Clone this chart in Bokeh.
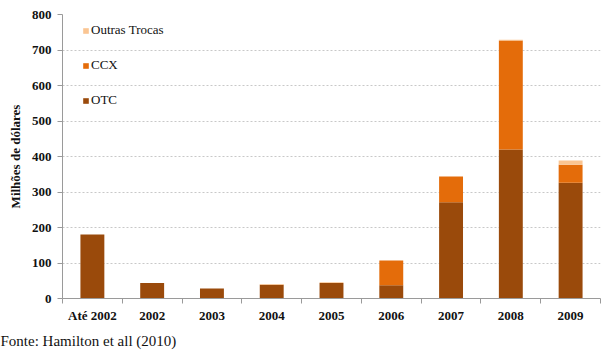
from bokeh.plotting import figure
from bokeh.models import (ColumnDataSource, FixedTicker, Range1d, Legend, LegendItem, Title)
from bokeh.embed import file_html
from bokeh.resources import INLINE

categories = ["Até 2002", "2002", "2003", "2004", "2005", "2006", "2007", "2008", "2009"]
otc = [180, 44, 28, 39, 44, 37, 271, 420, 326]
ccx = [0, 0, 0, 0, 0, 70, 73, 307, 51]
outras = [0, 0, 0, 2, 2, 0, 0, 2, 12]
y_ticks = [0, 100, 200, 300, 400, 500, 600, 700, 800]

colors = {"OTC": "#9A4A0B", "CCX": "#E46C0A", "Outras Trocas": "#FAC592"}
FONT = "Liberation Serif"

xpos = [i + 0.5 for i in range(len(categories))]
src = ColumnDataSource(dict(x=xpos, OTC=otc, CCX=ccx, Outras=outras))

p = figure(width=606, height=358, output_backend="svg", toolbar_location=None,
           x_range=Range1d(0, len(categories)), y_range=Range1d(0, 800))
p.min_border_left = 62
p.min_border_right = 6
p.min_border_top = 14
p.min_border_bottom = 60
p.outline_line_color = None
p.background_fill_color = "white"
p.border_fill_color = "white"

rs = p.vbar_stack(["OTC", "CCX", "Outras"], x="x", width=0.4, source=src,
                  color=[colors["OTC"], colors["CCX"], colors["Outras Trocas"]],
                  line_color=None)

# axes
p.xaxis.ticker = FixedTicker(ticks=xpos, minor_ticks=list(range(len(categories) + 1)))
p.xaxis.major_label_overrides = {x: c for x, c in zip(xpos, categories)}
p.xaxis.major_tick_line_color = None
p.xaxis.minor_tick_line_color = "#9A9A9A"
p.xaxis.minor_tick_out = 5
p.xaxis.minor_tick_in = 0
p.xaxis.axis_line_color = "#9A9A9A"
p.xaxis.major_label_text_font = FONT
p.xaxis.major_label_text_font_style = "bold"
p.xaxis.major_label_text_font_size = "13px"
p.xaxis.major_label_text_color = "#111111"
p.xaxis.major_label_standoff = 3

p.yaxis.ticker = FixedTicker(ticks=y_ticks)
p.yaxis.minor_tick_line_color = None
p.yaxis.major_tick_line_color = "#9A9A9A"
p.yaxis.major_tick_out = 5
p.yaxis.major_tick_in = 0
p.yaxis.axis_line_color = "#9A9A9A"
p.yaxis.major_label_text_font = FONT
p.yaxis.major_label_text_font_style = "bold"
p.yaxis.major_label_text_font_size = "13px"
p.yaxis.major_label_text_color = "#111111"
p.yaxis.major_label_standoff = 6
p.yaxis.axis_label = "Milhões de dólares"
p.yaxis.axis_label_text_font = FONT
p.yaxis.axis_label_text_font_style = "bold"
p.yaxis.axis_label_text_font_size = "13px"
p.yaxis.axis_label_text_color = "#111111"
p.yaxis.axis_label_standoff = 6

p.xgrid.grid_line_color = None
p.ygrid.grid_line_color = "#C8C8C8"
p.ygrid.grid_line_dash = "2 2"
p.ygrid.grid_line_width = 1

legend = Legend(items=[
    LegendItem(label="Outras Trocas", renderers=[rs[2]]),
    LegendItem(label="CCX", renderers=[rs[1]]),
    LegendItem(label="OTC", renderers=[rs[0]]),
], location=(20, 188), orientation="vertical")
legend.background_fill_alpha = 0
legend.border_line_color = None
legend.padding = 0
legend.margin = 0
legend.spacing = 15
legend.label_height = 20
legend.glyph_height = 7
legend.glyph_width = 7
legend.label_standoff = 2
legend.label_text_font = FONT
legend.label_text_font_size = "13px"
legend.label_text_color = "#111111"
p.add_layout(legend, "center")

footer = Title(text="Fonte: Hamilton et all (2010)", align="left", offset=-62,
               text_font=FONT, text_font_size="15px", text_color="#111111",
               text_font_style="normal", standoff=11)
p.add_layout(footer, "below")

open("out.html", "w").write(file_html(p, INLINE))
